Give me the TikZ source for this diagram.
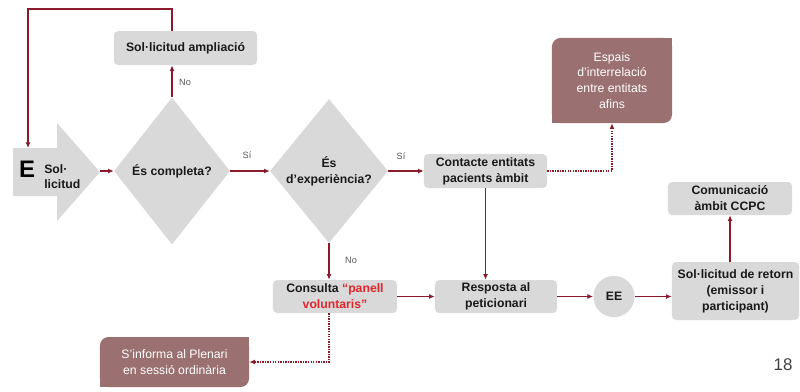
\documentclass[tikz,border=0pt]{standalone}
\usepackage{fontspec}
\setmainfont{Liberation Sans}
\usetikzlibrary{shapes.geometric,arrows.meta}
\definecolor{boxgray}{HTML}{D9D9D9}
\definecolor{boxbrown}{HTML}{9A7070}
\definecolor{linered}{HTML}{8B1A2B}
\definecolor{txtred}{HTML}{E3242B}
\definecolor{lblgray}{HTML}{595959}
\begin{document}
\begin{tikzpicture}[x=0.025cm,y=-0.025cm,
  >={Latex[length=4pt,width=3.5pt]},
  graybox/.style={fill=boxgray,rounded corners=3pt,align=center,inner sep=1pt,
    font=\fontsize{8.7}{11.3}\selectfont\bfseries,text=black!90},
  brownbox/.style={fill=boxbrown,rounded corners=6pt,align=center,inner sep=1pt,
    font=\fontsize{8.7}{11.3}\selectfont,text=white},
  question/.style={diamond,fill=boxgray,inner sep=0pt,align=center,
    font=\fontsize{8.7}{11.3}\selectfont\bfseries,text=black!90},
  lbl/.style={font=\fontsize{6.5}{8}\selectfont,text=lblgray},
  link/.style={draw=linered,line width=0.75pt,->},
  dotlink/.style={draw=linered,line width=0.75pt,dash pattern=on 1pt off 0.8pt,->}]
\useasboundingbox (0,0) rectangle (800,391);
% entry arrow
\path[fill=boxgray] (13,148) -- (57,148) -- (57,123) -- (100,172) -- (57,221) -- (57,196) -- (13,196) -- cycle;
\node[font=\fontsize{17}{17}\selectfont\bfseries] (e) at (27,169) {E};
\node[anchor=west,align=left,inner sep=0pt,font=\fontsize{8.7}{10.8}\selectfont\bfseries,text=black!90] (sol) at (44,177) {Sol·\\licitud};
\coordinate (soltop) at (28,148);
\coordinate (soltip) at (100,171);
\coordinate (loop) at (28,9);
% boxes
\node[graybox,minimum width=3.575cm,minimum height=0.85cm] (ampl) at (185.5,48) {Sol·licitud ampliació};
\node[question,minimum width=2.9cm,minimum height=3.675cm] (d1) at (172,171) {És completa?};
\node[question,minimum width=2.95cm,minimum height=3.6cm] (d2) at (329,171) {És\\d’experiència?};
\node[graybox,minimum width=3.075cm,minimum height=0.85cm] (cont) at (485.5,171) {Contacte entitats\\pacients àmbit};
\node[brownbox,minimum width=3cm,minimum height=2.125cm] (espais) at (612,80.5) {Espais\\d’interrelació\\entre entitats\\afins};
\fill[boxbrown] (espais.north east) rectangle ++(-7pt,-7pt);
\fill[boxbrown] (espais.south west) rectangle ++(7pt,7pt);
\node[graybox,minimum width=3.1cm,minimum height=0.825cm] (cons) at (335,296.5) {Consulta \textcolor{txtred}{``panell}\\\textcolor{txtred}{voluntaris''}};
\node[graybox,minimum width=3.05cm,minimum height=0.825cm] (resp) at (496,296.5) {Resposta al\\peticionari};
\node[graybox,circle,minimum size=1.03cm,inner sep=0pt] (ee) at (614,296.5) {EE};
\node[graybox,minimum width=3.175cm,minimum height=1.45cm] (ret) at (735.5,291) {Sol·licitud de retorn\\(emissor i\\participant)};
\node[graybox,minimum width=3.1cm,minimum height=0.825cm] (com) at (730,198.5) {Comunicació\\àmbit CCPC};
\node[brownbox,minimum width=3.725cm,minimum height=1.25cm] (plen) at (174.5,362) {S’informa al Plenari\\en sessió ordinària};
\fill[boxbrown] (plen.north east) rectangle ++(-7pt,-7pt);
\fill[boxbrown] (plen.south west) rectangle ++(7pt,7pt);
% labels
\node[lbl] (no1) at (185,82) {No};
\node[lbl] (si1) at (247,155) {Sí};
\node[lbl] (si2) at (401,156) {Sí};
\node[lbl] (no2) at (351,260) {No};
\node[font=\fontsize{12}{12}\selectfont,text=black!75] (page) at (783,365) {18};
% connectors
\path[link] (d1.north |- ampl.north) |- (loop) -- (soltop);
\path[link] (d1.north) -- (d1.north |- ampl.south);
\path[link] (soltip) -- (d1.west);
\path[link] (d1.east) -- (d2.west);
\path[link] (d2.east) -- (cont.west);
\path[dotlink] (cont.east) -| (espais.south);
\path[link] (cont.south) -- (cont.south |- resp.north);
\path[link] (d2.south) -- (d2.south |- cons.north);
\path[link] (cons.east) -- (resp.west);
\path[dotlink] (d2.south |- cons.south) |- (plen.east);
\path[link] (resp.east) -- (ee.west);
\path[link] (ee.east) -- (ee.east -| ret.west);
\path[link] (ret.north -| com.south) -- (com.south);
\end{tikzpicture}
\end{document}
